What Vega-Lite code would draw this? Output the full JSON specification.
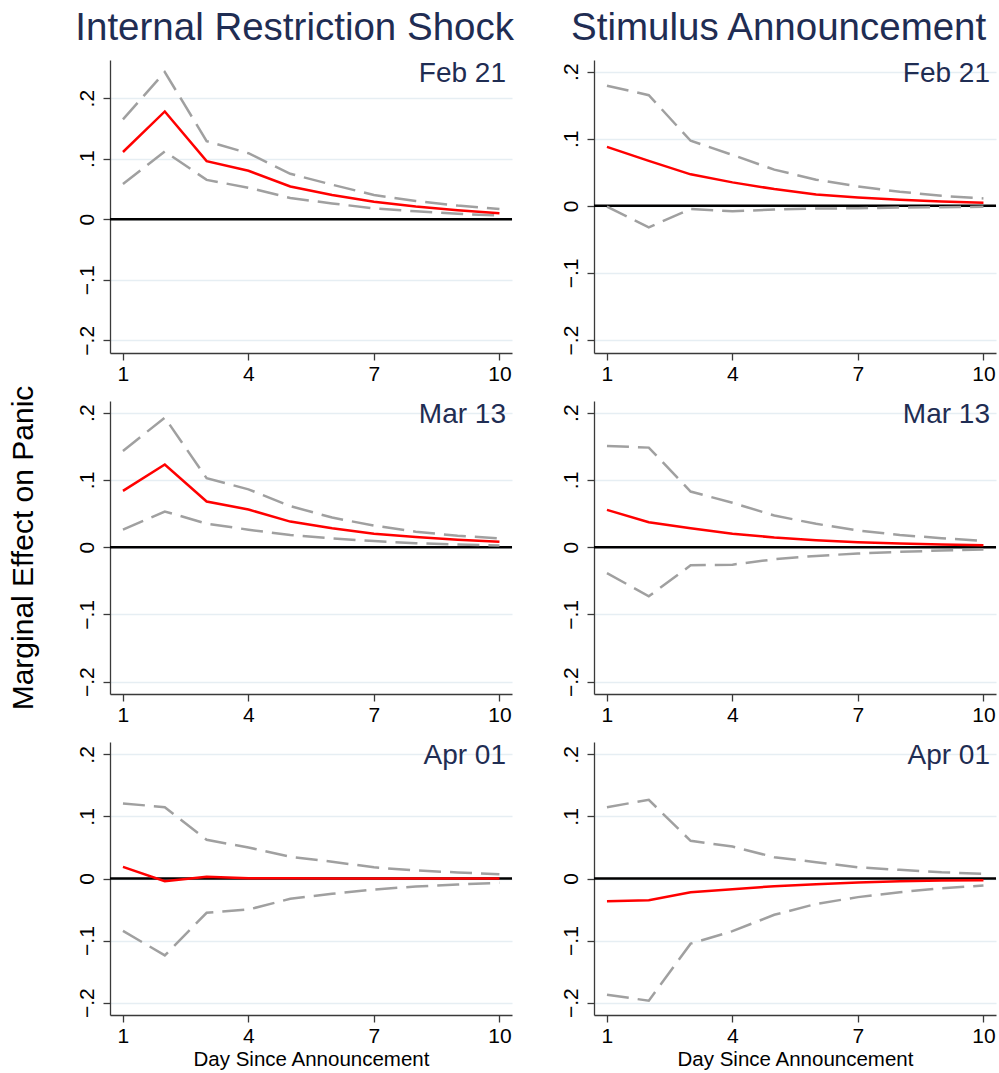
{
  "$schema": "https://vega.github.io/schema/vega-lite/v6.json",
  "background": "white",
  "padding": {"left": 7, "top": 8, "right": 3, "bottom": 3},
  "config": {
    "font": "Liberation Sans",
    "view": {"stroke": null},
    "axis": {"domainColor": "#3a3a3a", "domainWidth": 1.3, "tickColor": "#3a3a3a", "tickWidth": 1.3, "tickSize": 7, "labelFont": "Liberation Sans", "labelFontSize": 21, "labelColor": "black", "gridColor": "#e6eef3", "gridWidth": 1.5, "titleFont": "Liberation Sans", "titleFontWeight": "normal", "titleColor": "black"},
    "axisY": {"labelAngle": -90, "grid": true, "labelPadding": 6, "titleFontSize": 30, "titlePadding": 38},
    "axisX": {"grid": false, "labelPadding": 3, "titleFontSize": 20.5, "titlePadding": 3},
    "title": {"font": "Liberation Sans", "fontSize": 38.5, "fontWeight": "normal", "color": "#1f2d53", "anchor": "middle", "frame": "bounds", "offset": 12}
  },
  "datasets": {
    "d": [
      {"p": "IF", "date": "Feb 21", "day": 1, "est": 0.111, "lo": 0.058, "hi": 0.165},
      {"p": "IF", "date": "Feb 21", "day": 2, "est": 0.178, "lo": 0.112, "hi": 0.243},
      {"p": "IF", "date": "Feb 21", "day": 3, "est": 0.096, "lo": 0.065, "hi": 0.129},
      {"p": "IF", "date": "Feb 21", "day": 4, "est": 0.080, "lo": 0.052, "hi": 0.109},
      {"p": "IF", "date": "Feb 21", "day": 5, "est": 0.054, "lo": 0.035, "hi": 0.075},
      {"p": "IF", "date": "Feb 21", "day": 6, "est": 0.040, "lo": 0.026, "hi": 0.057},
      {"p": "IF", "date": "Feb 21", "day": 7, "est": 0.029, "lo": 0.018, "hi": 0.040},
      {"p": "IF", "date": "Feb 21", "day": 8, "est": 0.021, "lo": 0.013, "hi": 0.030},
      {"p": "IF", "date": "Feb 21", "day": 9, "est": 0.015, "lo": 0.009, "hi": 0.0225},
      {"p": "IF", "date": "Feb 21", "day": 10, "est": 0.010, "lo": 0.006, "hi": 0.017},
      {"p": "SF", "date": "Feb 21", "day": 1, "est": 0.088, "lo": -0.001, "hi": 0.179},
      {"p": "SF", "date": "Feb 21", "day": 2, "est": 0.067, "lo": -0.032, "hi": 0.165},
      {"p": "SF", "date": "Feb 21", "day": 3, "est": 0.047, "lo": -0.0045, "hi": 0.097},
      {"p": "SF", "date": "Feb 21", "day": 4, "est": 0.035, "lo": -0.008, "hi": 0.076},
      {"p": "SF", "date": "Feb 21", "day": 5, "est": 0.025, "lo": -0.0055, "hi": 0.054},
      {"p": "SF", "date": "Feb 21", "day": 6, "est": 0.017, "lo": -0.004, "hi": 0.039},
      {"p": "SF", "date": "Feb 21", "day": 7, "est": 0.0124, "lo": -0.0035, "hi": 0.029},
      {"p": "SF", "date": "Feb 21", "day": 8, "est": 0.009, "lo": -0.0025, "hi": 0.021},
      {"p": "SF", "date": "Feb 21", "day": 9, "est": 0.0065, "lo": -0.002, "hi": 0.015},
      {"p": "SF", "date": "Feb 21", "day": 10, "est": 0.0045, "lo": -0.0015, "hi": 0.011},
      {"p": "IM", "date": "Mar 13", "day": 1, "est": 0.0837, "lo": 0.026, "hi": 0.143},
      {"p": "IM", "date": "Mar 13", "day": 2, "est": 0.1228, "lo": 0.053, "hi": 0.1926},
      {"p": "IM", "date": "Mar 13", "day": 3, "est": 0.0678, "lo": 0.035, "hi": 0.1025},
      {"p": "IM", "date": "Mar 13", "day": 4, "est": 0.056, "lo": 0.026, "hi": 0.086},
      {"p": "IM", "date": "Mar 13", "day": 5, "est": 0.038, "lo": 0.018, "hi": 0.061},
      {"p": "IM", "date": "Mar 13", "day": 6, "est": 0.028, "lo": 0.013, "hi": 0.044},
      {"p": "IM", "date": "Mar 13", "day": 7, "est": 0.020, "lo": 0.009, "hi": 0.032},
      {"p": "IM", "date": "Mar 13", "day": 8, "est": 0.015, "lo": 0.006, "hi": 0.023},
      {"p": "IM", "date": "Mar 13", "day": 9, "est": 0.011, "lo": 0.004, "hi": 0.017},
      {"p": "IM", "date": "Mar 13", "day": 10, "est": 0.008, "lo": 0.0025, "hi": 0.013},
      {"p": "SM", "date": "Mar 13", "day": 1, "est": 0.0554, "lo": -0.0386, "hi": 0.1505},
      {"p": "SM", "date": "Mar 13", "day": 2, "est": 0.037, "lo": -0.073, "hi": 0.148},
      {"p": "SM", "date": "Mar 13", "day": 3, "est": 0.028, "lo": -0.027, "hi": 0.0827},
      {"p": "SM", "date": "Mar 13", "day": 4, "est": 0.020, "lo": -0.026, "hi": 0.066},
      {"p": "SM", "date": "Mar 13", "day": 5, "est": 0.0144, "lo": -0.018, "hi": 0.047},
      {"p": "SM", "date": "Mar 13", "day": 6, "est": 0.0104, "lo": -0.013, "hi": 0.0347},
      {"p": "SM", "date": "Mar 13", "day": 7, "est": 0.0074, "lo": -0.0094, "hi": 0.0248},
      {"p": "SM", "date": "Mar 13", "day": 8, "est": 0.0054, "lo": -0.007, "hi": 0.018},
      {"p": "SM", "date": "Mar 13", "day": 9, "est": 0.004, "lo": -0.005, "hi": 0.0134},
      {"p": "SM", "date": "Mar 13", "day": 10, "est": 0.003, "lo": -0.0035, "hi": 0.0094},
      {"p": "IA", "date": "Apr 01", "day": 1, "est": 0.0188, "lo": -0.0843, "hi": 0.121},
      {"p": "IA", "date": "Apr 01", "day": 2, "est": -0.0043, "lo": -0.124, "hi": 0.115},
      {"p": "IA", "date": "Apr 01", "day": 3, "est": 0.0027, "lo": -0.0553, "hi": 0.0623},
      {"p": "IA", "date": "Apr 01", "day": 4, "est": 0.0003, "lo": -0.050, "hi": 0.050},
      {"p": "IA", "date": "Apr 01", "day": 5, "est": 0.0003, "lo": -0.0327, "hi": 0.035},
      {"p": "IA", "date": "Apr 01", "day": 6, "est": 0.0002, "lo": -0.0247, "hi": 0.027},
      {"p": "IA", "date": "Apr 01", "day": 7, "est": 0.0002, "lo": -0.0177, "hi": 0.018},
      {"p": "IA", "date": "Apr 01", "day": 8, "est": 0.0001, "lo": -0.0129, "hi": 0.013},
      {"p": "IA", "date": "Apr 01", "day": 9, "est": 0.0001, "lo": -0.0097, "hi": 0.0097},
      {"p": "IA", "date": "Apr 01", "day": 10, "est": 0.0001, "lo": -0.007, "hi": 0.007},
      {"p": "SA", "date": "Apr 01", "day": 1, "est": -0.0365, "lo": -0.1873, "hi": 0.115},
      {"p": "SA", "date": "Apr 01", "day": 2, "est": -0.035, "lo": -0.197, "hi": 0.1267},
      {"p": "SA", "date": "Apr 01", "day": 3, "est": -0.022, "lo": -0.105, "hi": 0.0607},
      {"p": "SA", "date": "Apr 01", "day": 4, "est": -0.0172, "lo": -0.0848, "hi": 0.0515},
      {"p": "SA", "date": "Apr 01", "day": 5, "est": -0.0123, "lo": -0.0585, "hi": 0.0343},
      {"p": "SA", "date": "Apr 01", "day": 6, "est": -0.0091, "lo": -0.041, "hi": 0.0263},
      {"p": "SA", "date": "Apr 01", "day": 7, "est": -0.0064, "lo": -0.030, "hi": 0.018},
      {"p": "SA", "date": "Apr 01", "day": 8, "est": -0.0043, "lo": -0.022, "hi": 0.014},
      {"p": "SA", "date": "Apr 01", "day": 9, "est": -0.0032, "lo": -0.0156, "hi": 0.010},
      {"p": "SA", "date": "Apr 01", "day": 10, "est": -0.0027, "lo": -0.0113, "hi": 0.0075}
    ]
  },
  "columns": 2,
  "spacing": {"row": 48, "column": 82},
  "bounds": "flush",
  "concat": [
    {
      "width": 402, "height": 293,
      "title": {"text": "Internal Restriction Shock"},
      "layer": [
        {"data": {"values": [{}]}, "mark": {"type": "rule", "color": "black", "strokeWidth": 2.5}, "encoding": {"y": {"datum": 0, "type": "quantitative", "scale": {"domain": [-0.221, 0.263], "nice": false, "zero": false}}}},
        {"data": {"name": "d"}, "transform": [{"filter": "datum.p == 'IF'"}, {"fold": ["lo", "hi"], "as": ["s", "v"]}], "mark": {"type": "line", "color": "#a0a0a0", "strokeWidth": 2.5, "strokeDash": [22, 9], "strokeCap": "butt"}, "encoding": {"x": {"field": "day", "type": "quantitative", "title": null, "scale": {"domain": [0.69, 10.3], "nice": false, "zero": false}, "axis": {"values": [1, 4, 7, 10]}}, "y": {"field": "v", "type": "quantitative", "title": null, "scale": {"domain": [-0.221, 0.263], "nice": false, "zero": false}, "axis": {"values": [-0.2, -0.1, 0, 0.1, 0.2], "format": ".1~f", "labelExpr": "replace(datum.label, '0.', '.')"}}, "detail": {"field": "s"}}},
        {"data": {"name": "d"}, "transform": [{"filter": "datum.p == 'IF'"}], "mark": {"type": "line", "color": "#ff0000", "strokeWidth": 2.5}, "encoding": {"x": {"field": "day", "type": "quantitative", "title": null}, "y": {"field": "est", "type": "quantitative", "title": null}}},
        {"data": {"name": "d"}, "transform": [{"filter": "datum.p == 'IF' && datum.day == 1"}], "mark": {"type": "text", "font": "Liberation Sans", "fontSize": 28, "color": "#1f2d53", "align": "right", "baseline": "top", "dx": -6, "dy": 0}, "encoding": {"x": {"datum": 10.3, "type": "quantitative"}, "y": {"datum": 0.263, "type": "quantitative"}, "text": {"field": "date"}}}
      ]
    },
    {
      "width": 402, "height": 293,
      "title": {"text": "Stimulus Announcement"},
      "layer": [
        {"data": {"values": [{}]}, "mark": {"type": "rule", "color": "black", "strokeWidth": 2.5}, "encoding": {"y": {"datum": 0, "type": "quantitative", "scale": {"domain": [-0.2193, 0.2174], "nice": false, "zero": false}}}},
        {"data": {"name": "d"}, "transform": [{"filter": "datum.p == 'SF'"}, {"fold": ["lo", "hi"], "as": ["s", "v"]}], "mark": {"type": "line", "color": "#a0a0a0", "strokeWidth": 2.5, "strokeDash": [22, 9], "strokeCap": "butt"}, "encoding": {"x": {"field": "day", "type": "quantitative", "title": null, "scale": {"domain": [0.69, 10.3], "nice": false, "zero": false}, "axis": {"values": [1, 4, 7, 10]}}, "y": {"field": "v", "type": "quantitative", "title": null, "scale": {"domain": [-0.2193, 0.2174], "nice": false, "zero": false}, "axis": {"values": [-0.2, -0.1, 0, 0.1, 0.2], "format": ".1~f", "labelExpr": "replace(datum.label, '0.', '.')"}}, "detail": {"field": "s"}}},
        {"data": {"name": "d"}, "transform": [{"filter": "datum.p == 'SF'"}], "mark": {"type": "line", "color": "#ff0000", "strokeWidth": 2.5}, "encoding": {"x": {"field": "day", "type": "quantitative", "title": null}, "y": {"field": "est", "type": "quantitative", "title": null}}},
        {"data": {"name": "d"}, "transform": [{"filter": "datum.p == 'SF' && datum.day == 1"}], "mark": {"type": "text", "font": "Liberation Sans", "fontSize": 28, "color": "#1f2d53", "align": "right", "baseline": "top", "dx": -6, "dy": 0}, "encoding": {"x": {"datum": 10.3, "type": "quantitative"}, "y": {"datum": 0.2174, "type": "quantitative"}, "text": {"field": "date"}}}
      ]
    },
    {
      "width": 402, "height": 293,
      "layer": [
        {"data": {"values": [{}]}, "mark": {"type": "rule", "color": "black", "strokeWidth": 2.5}, "encoding": {"y": {"datum": 0, "type": "quantitative", "scale": {"domain": [-0.2183, 0.2173], "nice": false, "zero": false}}}},
        {"data": {"name": "d"}, "transform": [{"filter": "datum.p == 'IM'"}, {"fold": ["lo", "hi"], "as": ["s", "v"]}], "mark": {"type": "line", "color": "#a0a0a0", "strokeWidth": 2.5, "strokeDash": [22, 9], "strokeCap": "butt"}, "encoding": {"x": {"field": "day", "type": "quantitative", "title": null, "scale": {"domain": [0.69, 10.3], "nice": false, "zero": false}, "axis": {"values": [1, 4, 7, 10]}}, "y": {"field": "v", "type": "quantitative", "title": "Marginal Effect on Panic", "scale": {"domain": [-0.2183, 0.2173], "nice": false, "zero": false}, "axis": {"values": [-0.2, -0.1, 0, 0.1, 0.2], "format": ".1~f", "labelExpr": "replace(datum.label, '0.', '.')"}}, "detail": {"field": "s"}}},
        {"data": {"name": "d"}, "transform": [{"filter": "datum.p == 'IM'"}], "mark": {"type": "line", "color": "#ff0000", "strokeWidth": 2.5}, "encoding": {"x": {"field": "day", "type": "quantitative", "title": null}, "y": {"field": "est", "type": "quantitative", "title": "Marginal Effect on Panic"}}},
        {"data": {"name": "d"}, "transform": [{"filter": "datum.p == 'IM' && datum.day == 1"}], "mark": {"type": "text", "font": "Liberation Sans", "fontSize": 28, "color": "#1f2d53", "align": "right", "baseline": "top", "dx": -6, "dy": 0}, "encoding": {"x": {"datum": 10.3, "type": "quantitative"}, "y": {"datum": 0.2173, "type": "quantitative"}, "text": {"field": "date"}}}
      ]
    },
    {
      "width": 402, "height": 293,
      "layer": [
        {"data": {"values": [{}]}, "mark": {"type": "rule", "color": "black", "strokeWidth": 2.5}, "encoding": {"y": {"datum": 0, "type": "quantitative", "scale": {"domain": [-0.2183, 0.2173], "nice": false, "zero": false}}}},
        {"data": {"name": "d"}, "transform": [{"filter": "datum.p == 'SM'"}, {"fold": ["lo", "hi"], "as": ["s", "v"]}], "mark": {"type": "line", "color": "#a0a0a0", "strokeWidth": 2.5, "strokeDash": [22, 9], "strokeCap": "butt"}, "encoding": {"x": {"field": "day", "type": "quantitative", "title": null, "scale": {"domain": [0.69, 10.3], "nice": false, "zero": false}, "axis": {"values": [1, 4, 7, 10]}}, "y": {"field": "v", "type": "quantitative", "title": null, "scale": {"domain": [-0.2183, 0.2173], "nice": false, "zero": false}, "axis": {"values": [-0.2, -0.1, 0, 0.1, 0.2], "format": ".1~f", "labelExpr": "replace(datum.label, '0.', '.')"}}, "detail": {"field": "s"}}},
        {"data": {"name": "d"}, "transform": [{"filter": "datum.p == 'SM'"}], "mark": {"type": "line", "color": "#ff0000", "strokeWidth": 2.5}, "encoding": {"x": {"field": "day", "type": "quantitative", "title": null}, "y": {"field": "est", "type": "quantitative", "title": null}}},
        {"data": {"name": "d"}, "transform": [{"filter": "datum.p == 'SM' && datum.day == 1"}], "mark": {"type": "text", "font": "Liberation Sans", "fontSize": 28, "color": "#1f2d53", "align": "right", "baseline": "top", "dx": -6, "dy": 0}, "encoding": {"x": {"datum": 10.3, "type": "quantitative"}, "y": {"datum": 0.2173, "type": "quantitative"}, "text": {"field": "date"}}}
      ]
    },
    {
      "width": 402, "height": 273,
      "layer": [
        {"data": {"values": [{}]}, "mark": {"type": "rule", "color": "black", "strokeWidth": 2.5}, "encoding": {"y": {"datum": 0, "type": "quantitative", "scale": {"domain": [-0.22, 0.22], "nice": false, "zero": false}}}},
        {"data": {"name": "d"}, "transform": [{"filter": "datum.p == 'IA'"}, {"fold": ["lo", "hi"], "as": ["s", "v"]}], "mark": {"type": "line", "color": "#a0a0a0", "strokeWidth": 2.5, "strokeDash": [22, 9], "strokeCap": "butt"}, "encoding": {"x": {"field": "day", "type": "quantitative", "title": "Day Since Announcement", "scale": {"domain": [0.69, 10.3], "nice": false, "zero": false}, "axis": {"values": [1, 4, 7, 10]}}, "y": {"field": "v", "type": "quantitative", "title": null, "scale": {"domain": [-0.22, 0.22], "nice": false, "zero": false}, "axis": {"values": [-0.2, -0.1, 0, 0.1, 0.2], "format": ".1~f", "labelExpr": "replace(datum.label, '0.', '.')"}}, "detail": {"field": "s"}}},
        {"data": {"name": "d"}, "transform": [{"filter": "datum.p == 'IA'"}], "mark": {"type": "line", "color": "#ff0000", "strokeWidth": 2.5}, "encoding": {"x": {"field": "day", "type": "quantitative", "title": "Day Since Announcement"}, "y": {"field": "est", "type": "quantitative", "title": null}}},
        {"data": {"name": "d"}, "transform": [{"filter": "datum.p == 'IA' && datum.day == 1"}], "mark": {"type": "text", "font": "Liberation Sans", "fontSize": 28, "color": "#1f2d53", "align": "right", "baseline": "top", "dx": -6, "dy": 0}, "encoding": {"x": {"datum": 10.3, "type": "quantitative"}, "y": {"datum": 0.22, "type": "quantitative"}, "text": {"field": "date"}}}
      ]
    },
    {
      "width": 402, "height": 273,
      "layer": [
        {"data": {"values": [{}]}, "mark": {"type": "rule", "color": "black", "strokeWidth": 2.5}, "encoding": {"y": {"datum": 0, "type": "quantitative", "scale": {"domain": [-0.22, 0.22], "nice": false, "zero": false}}}},
        {"data": {"name": "d"}, "transform": [{"filter": "datum.p == 'SA'"}, {"fold": ["lo", "hi"], "as": ["s", "v"]}], "mark": {"type": "line", "color": "#a0a0a0", "strokeWidth": 2.5, "strokeDash": [22, 9], "strokeCap": "butt"}, "encoding": {"x": {"field": "day", "type": "quantitative", "title": "Day Since Announcement", "scale": {"domain": [0.69, 10.3], "nice": false, "zero": false}, "axis": {"values": [1, 4, 7, 10]}}, "y": {"field": "v", "type": "quantitative", "title": null, "scale": {"domain": [-0.22, 0.22], "nice": false, "zero": false}, "axis": {"values": [-0.2, -0.1, 0, 0.1, 0.2], "format": ".1~f", "labelExpr": "replace(datum.label, '0.', '.')"}}, "detail": {"field": "s"}}},
        {"data": {"name": "d"}, "transform": [{"filter": "datum.p == 'SA'"}], "mark": {"type": "line", "color": "#ff0000", "strokeWidth": 2.5}, "encoding": {"x": {"field": "day", "type": "quantitative", "title": "Day Since Announcement"}, "y": {"field": "est", "type": "quantitative", "title": null}}},
        {"data": {"name": "d"}, "transform": [{"filter": "datum.p == 'SA' && datum.day == 1"}], "mark": {"type": "text", "font": "Liberation Sans", "fontSize": 28, "color": "#1f2d53", "align": "right", "baseline": "top", "dx": -6, "dy": 0}, "encoding": {"x": {"datum": 10.3, "type": "quantitative"}, "y": {"datum": 0.22, "type": "quantitative"}, "text": {"field": "date"}}}
      ]
    }
  ]
}
